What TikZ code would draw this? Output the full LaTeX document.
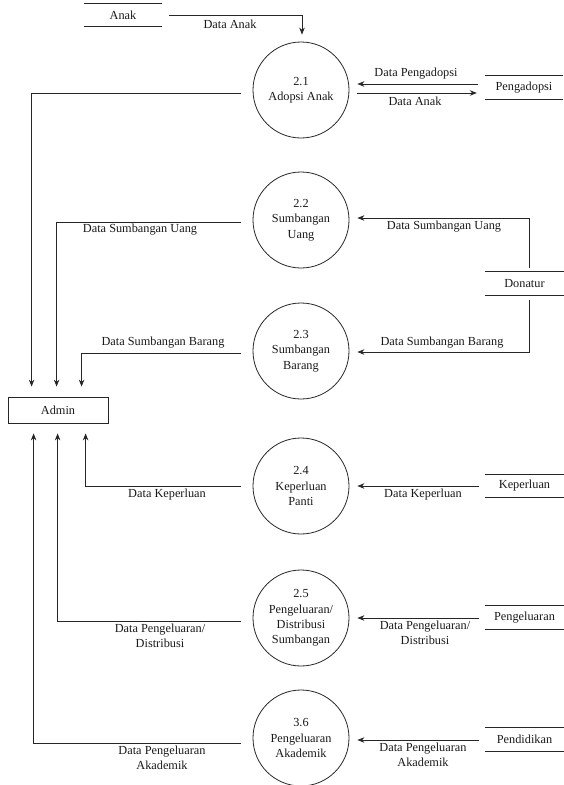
\documentclass[tikz,border=0pt]{standalone}
\usepackage{fontspec}
\setmainfont{Liberation Serif}
\usetikzlibrary{arrows.meta}
\begin{document}
\begin{tikzpicture}[x=1pt,y=-1pt,
  every node/.style={font=\fontsize{12.3}{15.3}\selectfont, text=black!90},
  proc/.style={draw=black!85, line width=0.8pt, circle, minimum size=96pt, inner sep=0pt, align=center},
  store/.style={minimum width=78pt, minimum height=23pt, inner sep=0pt},
  ent/.style={draw=black!85, line width=0.8pt, minimum width=100pt, minimum height=26pt, inner sep=0pt},
  lbl/.style={align=center, inner sep=0pt},
  wire/.style={draw=black!85, line width=0.8pt},
  flow/.style={wire, -{Stealth[length=7pt,width=5.5pt]}}]
\useasboundingbox (0,0) rectangle (563,785);

% processes
\node[proc] (p21) at (301,90)  {2.1\\Adopsi Anak};
\node[proc] (p22) at (301,220) {2.2\\Sumbangan\\Uang};
\node[proc] (p23) at (301,351) {2.3\\Sumbangan\\Barang};
\node[proc] (p24) at (301,486) {2.4\\Keperluan\\Panti};
\node[proc] (p25) at (301,618) {2.5\\Pengeluaran/\\Distribusi\\Sumbangan};
\node[proc] (p36) at (301,738) {3.6\\Pengeluaran\\Akademik};

% entity
\node[ent] (admin) at (58,410) {Admin};

% stores
\node[store] (anak) at (123,15) {Anak};
\node[store] (pengadopsi) at (524,87.5) {Pengadopsi};
\node[store] (donatur) at (524.5,283.5) {Donatur};
\node[store] (keperluan) at (524.5,486) {Keperluan};
\node[store] (pengeluaran) at (524.5,617.5) {Pengeluaran};
\node[store] (pendidikan) at (524.5,739.5) {Pendidikan};
\foreach \s in {anak,pengadopsi,donatur,keperluan,pengeluaran,pendidikan}
  \draw[wire] (\s.north west) -- (\s.north east) (\s.south west) -- (\s.south east);

% flows
\draw[flow] ([xshift=7pt]anak.east) -| ([shift={(1,-7)}]p21.north);
\node[lbl] (l1) at (230,24) {Data Anak};

\draw[flow] ([shift={(-7,-3.5)}]pengadopsi.west) -- ([shift={(8,-6)}]p21.east);
\node[lbl] (l2) at (416,74) {Data Pengadopsi};
\draw[flow] ([shift={(8,3)}]p21.east) -- ([shift={(-8,5.5)}]pengadopsi.west);
\node[lbl] (l3) at (415,101) {Data Anak};

\draw[flow] ([shift={(-12,3)}]p21.west) -| ([shift={(24,-10)}]admin.north west);

\draw[flow] ([shift={(-12,2)}]p22.west) -| ([shift={(49,-10)}]admin.north west);
\node[lbl] (l4) at (140,230) {Data Sumbangan Uang};
\draw[flow] ([shift={(4.5,-4)}]donatur.north) |- ([shift={(8,-2)}]p22.east);
\node[lbl] (l5) at (444,227) {Data Sumbangan Uang};

\draw[flow] ([shift={(-12,2)}]p23.west) -| ([shift={(74,-10)}]admin.north west);
\node[lbl] (l6) at (163,343) {Data Sumbangan Barang};
\draw[flow] ([shift={(4.5,5)}]donatur.south) |- ([shift={(8,1)}]p23.east);
\node[lbl] (l7) at (442,343) {Data Sumbangan Barang};

\draw[flow] ([shift={(-12,0)}]p24.west) -| ([shift={(78,10)}]admin.south west);
\node[lbl] (l8) at (167,494.5) {Data Keperluan};
\draw[flow] ([xshift=-6pt]keperluan.west) -- ([xshift=8pt]p24.east);
\node[lbl] (l9) at (423,494.5) {Data Keperluan};

\draw[flow] ([shift={(-12,3)}]p25.west) -| ([shift={(50,10)}]admin.south west);
\node[lbl] (l10) at (160,636) {Data Pengeluaran/\\Distribusi};
\draw[flow] ([shift={(-6,0.5)}]pengeluaran.west) -- ([shift={(8,0)}]p25.east);
\node[lbl] (l11) at (425,633) {Data Pengeluaran/\\Distribusi};

\draw[flow] ([shift={(-12,5)}]p36.west) -| ([shift={(26,10)}]admin.south west);
\node[lbl] (l12) at (162,757.5) {Data Pengeluaran\\Akademik};
\draw[flow] ([shift={(-6,0.5)}]pendidikan.west) -- ([shift={(8,2)}]p36.east);
\node[lbl] (l13) at (423,754.5) {Data Pengeluaran\\Akademik};
\end{tikzpicture}
\end{document}
